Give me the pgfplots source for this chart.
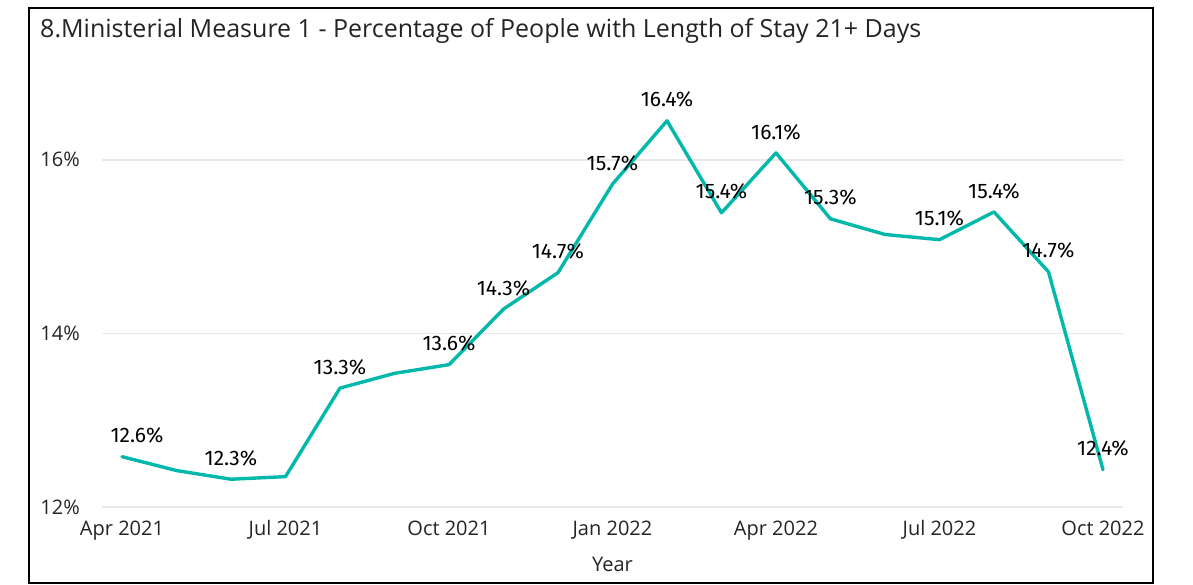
\documentclass[border=0pt]{standalone}
\usepackage{fontspec}
\setmainfont{Open Sans}
\newfontfamily\labfont{Fira Sans}
\usepackage{pgfplots}
\pgfplotsset{compat=1.18}
\definecolor{teal1}{HTML}{01B8AA}
\definecolor{txt}{HTML}{252423}
\definecolor{gridc}{HTML}{E8E8E8}

\pgfplotstableread{
x y
0 12.58
1 12.42
2 12.32
3 12.35
4 13.37
5 13.54
6 13.64
7 14.28
8 14.70
9 15.72
10 16.45
11 15.39
12 16.08
13 15.32
14 15.14
15 15.08
16 15.40
17 14.71
18 12.43
}\datatable

\pgfplotstableread{
x y lab
2 12.32 12.3
4 13.37 13.3
6 13.64 13.6
7 14.28 14.3
8 14.70 14.7
9 15.72 15.7
10 16.45 16.4
11 15.39 15.4
12 16.08 16.1
13 15.32 15.3
15 15.08 15.1
16 15.40 15.4
17 14.71 14.7
18 12.43 12.4
}\labtable

\pgfplotstableread{
x y lab
0 12.58 12.6
}\firstlab

\begin{document}
\begin{tikzpicture}[x=1pt,y=1pt]
\useasboundingbox (0,0) rectangle (1193,584);
\draw[line width=1.6pt, black] (29,1) rectangle (1153,576);
\node[anchor=base west, inner sep=0pt, font=\fontsize{25}{29}\selectfont, text=txt] at (40,546) {8.Ministerial Measure 1 - Percentage of People with Length of Stay 21+ Days};
\begin{axis}[
  at={(102pt,77pt)}, anchor=south west,
  scale only axis, width=1021pt, height=427pt,
  xmin=-0.367, xmax=18.367, ymin=12, ymax=16.92,
  axis x line*=bottom, axis y line*=left,
  axis line style={draw=none},
  major tick length=0pt,
  ymajorgrids, grid style={gridc, line width=1.5pt},
  ytick={12,14,16}, yticklabels={12\%,14\%,16\%},
  xtick={0,3,6,9,12,15,18},
  xticklabels={Apr 2021,Jul 2021,Oct 2021,Jan 2022,Apr 2022,Jul 2022,Oct 2022},
  ticklabel style={font=\fontsize{20}{24}\selectfont, text=txt},
  yticklabel style={anchor=east, inner sep=0pt, xshift=-22pt},
  xticklabel style={anchor=north, inner sep=0pt, yshift=-13.5pt},
  xlabel={Year},
  xlabel style={at={(axis description cs:0.5,0)}, anchor=center, inner sep=0pt, yshift=-57pt, font=\fontsize{20}{24}\selectfont, text=txt},
  clip=false,
]
\addplot[teal1, line width=3.4pt, line join=round, line cap=round, mark=none] table[x=x, y=y] {\datatable};
\addplot[draw=none, mark=none, point meta=explicit symbolic,
  nodes near coords={\pgfplotspointmeta\%},
  every node near coord/.append style={anchor=center, yshift=21pt, inner sep=0pt, font=\labfont\fontsize{21}{24}\selectfont, text=black}]
  table[x=x, y=y, meta=lab] {\labtable};
\addplot[draw=none, mark=none, point meta=explicit symbolic,
  nodes near coords={\pgfplotspointmeta\%},
  every node near coord/.append style={anchor=center, xshift=15pt, yshift=21pt, inner sep=0pt, font=\labfont\fontsize{21}{24}\selectfont, text=black}]
  table[x=x, y=y, meta=lab] {\firstlab};
\end{axis}
\end{tikzpicture}
\end{document}
